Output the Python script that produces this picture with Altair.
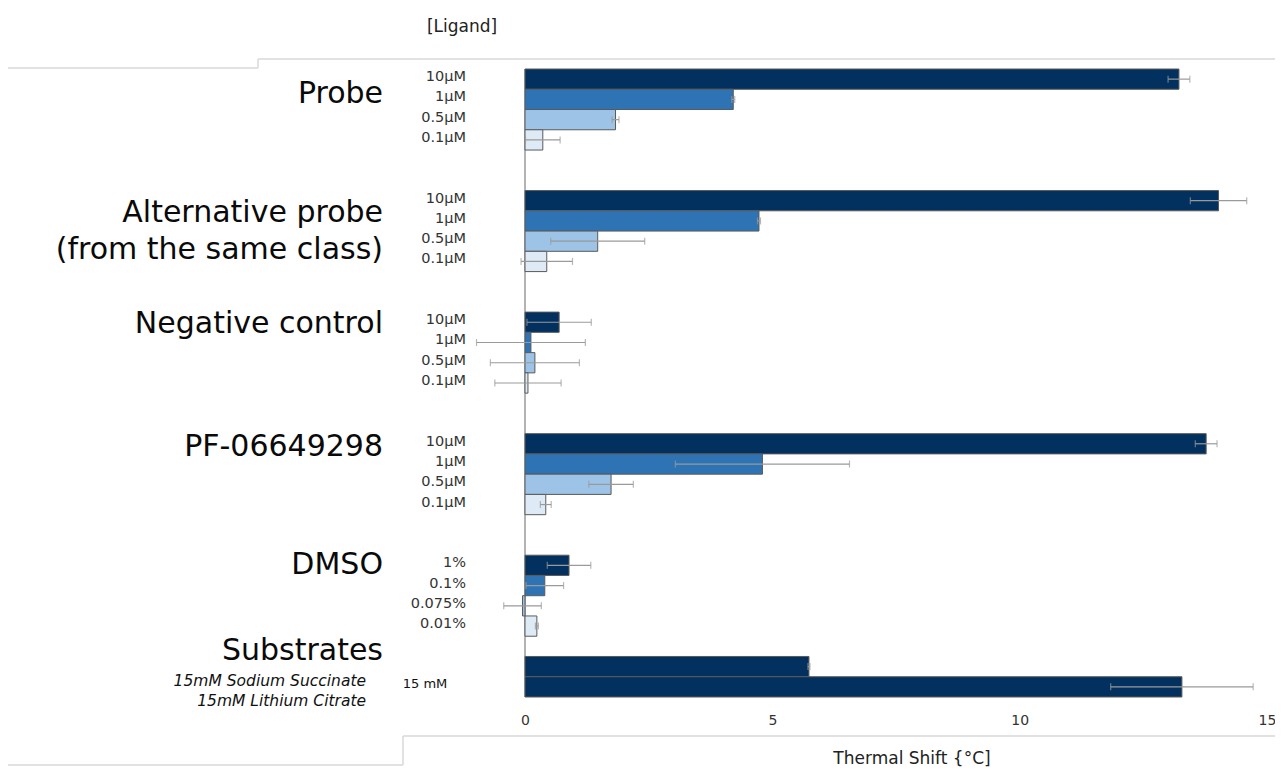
import altair as alt
import pandas as pd

# ---------------- data ----------------
group_names = [
    "Probe",
    "Alternative probe\n(from the same class)",
    "Negative control",
    "PF-06649298",
    "DMSO",
    "Substrates",
]
conc_labels = [
    ["10µM", "1µM", "0.5µM", "0.1µM"],
    ["10µM", "1µM", "0.5µM", "0.1µM"],
    ["10µM", "1µM", "0.5µM", "0.1µM"],
    ["10µM", "1µM", "0.5µM", "0.1µM"],
    ["1%", "0.1%", "0.075%", "0.01%"],
    ["15mM Sodium Succinate", "15mM Lithium Citrate"],
]
substrate_conc = "15 mM"
shift_values = [
    [13.22, 4.21, 1.83, 0.36],
    [14.02, 4.73, 1.47, 0.44],
    [0.69, 0.12, 0.20, 0.06],
    [13.77, 4.80, 1.74, 0.42],
    [0.89, 0.40, -0.05, 0.24],
    [5.74, 13.28],
]
shift_errors = [
    [0.22, 0.03, 0.07, 0.35],
    [0.57, 0.03, 0.95, 0.52],
    [0.65, 1.10, 0.90, 0.67],
    [0.22, 1.76, 0.45, 0.11],
    [0.44, 0.38, 0.38, 0.03],
    [0.02, 1.44],
]
color_tiers = [
    [0, 1, 2, 3],
    [0, 1, 2, 3],
    [0, 1, 2, 3],
    [0, 1, 2, 3],
    [0, 1, 2, 3],
    [0, 0],
]
x_ticks = [0, 5, 10, 15]
x_title = "Thermal Shift {°C]"
header = "[Ligand]"

# ---------------- layout / style ----------------
gap_rows_after = [2, 2, 2, 2, 1, 0]
group_label_dy = [15, 12, 2, 3, 0, -16]
tier_colors = ["#02315f", "#2e74b5", "#9dc3e6", "#deebf7"]
FONT = "DejaVu Sans"

rows = []
group_rows = []
r = 0
for gi, name in enumerate(group_names):
    first = None
    for ci, lab in enumerate(conc_labels[gi]):
        rid = f"r{r:02d}"
        if first is None:
            first = rid
        v = shift_values[gi][ci]
        e = shift_errors[gi][ci]
        rows.append(dict(row=rid, group=gi, label=lab, value=v,
                         lo=v - e, hi=v + e, tier=str(color_tiers[gi][ci])))
        r += 1
    group_rows.append(first)
    r += gap_rows_after[gi]
row_domain = [f"r{i:02d}" for i in range(r)]

df = pd.DataFrame(rows)
df_conc = df[df.group < 5]
df_sub = df[df.group == 5]

Y = alt.Y("row:N", scale=alt.Scale(domain=row_domain, paddingInner=0, paddingOuter=0), axis=None)
XSCALE = alt.Scale(domain=[0, 15], nice=False, zero=False)

base = alt.Chart(df)

axis_line = alt.Chart(pd.DataFrame({"x": [0]})).mark_rule(color="#9a9a9a", strokeWidth=1.5).encode(
    x=alt.X("x:Q", scale=XSCALE)
)

bars = base.mark_bar(stroke="#5a5a5a", strokeWidth=1).encode(
    x=alt.X("value:Q", scale=XSCALE,
            axis=alt.Axis(values=x_ticks, title=None, domain=False, ticks=False, grid=False,
                          labelFlush=False, labelPadding=16, labelFontSize=14,
                          labelFont=FONT, labelColor="#333")),
    y=Y,
    color=alt.Color("tier:N", scale=alt.Scale(domain=["0", "1", "2", "3"], range=tier_colors), legend=None),
)

err = base.mark_rule(color="#9a9a9a", strokeWidth=1.2).encode(
    x=alt.X("lo:Q", scale=XSCALE), x2="hi:Q", y=Y
)
cap_lo = base.mark_tick(color="#9a9a9a", thickness=1.2, size=7, orient="vertical").encode(
    x=alt.X("lo:Q", scale=XSCALE), y=Y
)
cap_hi = base.mark_tick(color="#9a9a9a", thickness=1.2, size=7, orient="vertical").encode(
    x=alt.X("hi:Q", scale=XSCALE), y=Y
)

conc_text = alt.Chart(df_conc).mark_text(
    align="right", baseline="middle", font=FONT, fontSize=14.5, color="#333", dy=-2
).encode(x=alt.value(-59), y=Y, text="label:N")

sub_text = alt.Chart(df_sub).mark_text(
    align="right", baseline="middle", font=FONT, fontSize=15.5, fontStyle="italic", color="#111", dy=14
).encode(x=alt.value(-159), y=Y, text="label:N")

sub_conc = alt.Chart(pd.DataFrame({"row": [df_sub.row.iloc[-1]], "t": [substrate_conc]})).mark_text(
    align="center", baseline="middle", font=FONT, fontSize=13, color="#111", dy=-3
).encode(x=alt.value(-100), y=Y, text="t:N")

group_layers = []
for gi, name in enumerate(group_names):
    group_layers.append(
        alt.Chart(pd.DataFrame({"row": [group_rows[gi]], "t": [name]})).mark_text(
            align="right", baseline="middle", font=FONT, fontSize=30, color="#0a0a0a",
            lineBreak="\n", lineHeight=37, dy=group_label_dy[gi]
        ).encode(x=alt.value(-142), y=Y, text="t:N")
    )

one = pd.DataFrame({"a": [0]})
title_text = alt.Chart(one).mark_text(
    align="center", baseline="middle", font=FONT, fontSize=17, color="#222"
).encode(x=alt.value(387), y=alt.value(690), text=alt.value(x_title))
header_text = alt.Chart(one).mark_text(
    align="center", baseline="middle", font=FONT, fontSize=17, color="#222"
).encode(x=alt.value(-63), y=alt.value(-42), text=alt.value(header))

deco = "#d9d9d9"
deco_layers = [
    alt.Chart(one).mark_rule(color=deco, strokeWidth=1.5).encode(x=alt.value(-267), x2=alt.value(752), y=alt.value(-10)),
    alt.Chart(one).mark_rule(color=deco, strokeWidth=1.5).encode(x=alt.value(-267), y=alt.value(-10), y2=alt.value(-1)),
    alt.Chart(one).mark_rule(color=deco, strokeWidth=1.5).encode(x=alt.value(-517), x2=alt.value(-267), y=alt.value(-1)),
    alt.Chart(one).mark_rule(color=deco, strokeWidth=1.5).encode(x=alt.value(-122), x2=alt.value(752), y=alt.value(667)),
    alt.Chart(one).mark_rule(color=deco, strokeWidth=1.5).encode(x=alt.value(-122), y=alt.value(667), y2=alt.value(696)),
    alt.Chart(one).mark_rule(color=deco, strokeWidth=1.5).encode(x=alt.value(-517), x2=alt.value(-122), y=alt.value(696)),
]

chart = alt.layer(
    *deco_layers, axis_line, bars, err, cap_lo, cap_hi, conc_text, sub_text, sub_conc,
    *group_layers, title_text, header_text
).properties(
    width=742, height=628,
    padding={"left": 517, "top": 61, "right": 8, "bottom": 70},
    autosize=alt.AutoSizeParams(type="none"),
).configure_view(stroke=None)

chart.save("out.html", embed_options={"renderer": "svg", "actions": False})
